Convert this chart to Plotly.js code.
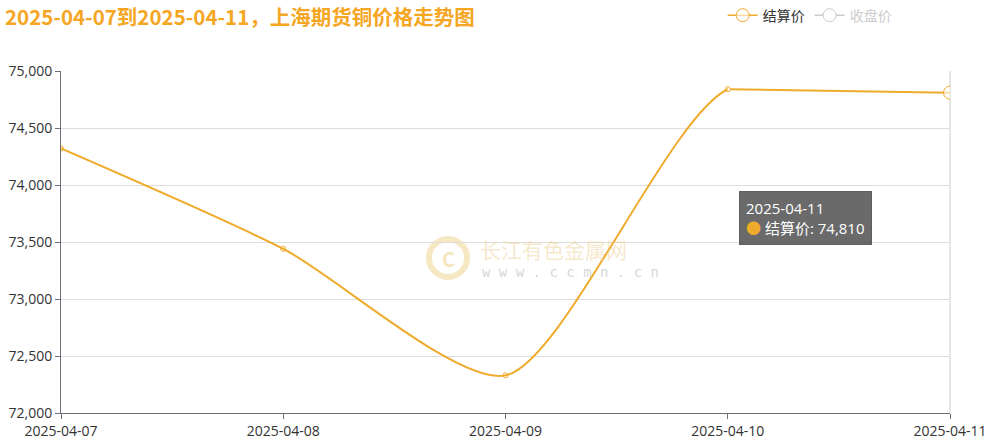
<!DOCTYPE html>
<html>
<head>
<meta charset="utf-8">
<script src="https://cdn.plot.ly/plotly-3.0.1.min.js"></script>
<style>html,body{margin:0;padding:0;background:#fff;}#chart{width:989px;height:444px;}</style>
</head>
<body>
<div id="chart"></div>
<script>
const dates = ['2025-04-07', '2025-04-08', '2025-04-09', '2025-04-10', '2025-04-11'];
const settlePrice = [74320, 73440, 72330, 74840, 74810];
const closePrice = [null, null, null, null, null];
const yTicks = [72000, 72500, 73000, 73500, 74000, 74500, 75000];
const titleText = '2025-04-07到2025-04-11，上海期货铜价格走势图';
const seriesNames = ['结算价', '收盘价'];

const orange = '#EFAB2C';
const cjk = '"Noto Sans CJK SC", "Noto Sans", sans-serif';
const lat = '"Open Sans", "Noto Sans CJK SC", sans-serif';
const last = dates.length - 1;
const yRange = [72000, 75000];

const traces = [
  { // smooth curve through all points, clipped at the second-to-last point (subplot x2/y2)
    x: dates, y: settlePrice, name: seriesNames[0], type: 'scatter', mode: 'lines',
    xaxis: 'x2', yaxis: 'y2',
    line: {color: orange, width: 2, shape: 'spline', smoothing: 0.7},
    showlegend: false, hoverinfo: 'skip'
  },
  { // final segment
    x: dates.slice(last - 1), y: settlePrice.slice(last - 1), name: seriesNames[0], type: 'scatter', mode: 'lines',
    line: {color: orange, width: 2},
    showlegend: false, hoverinfo: 'skip'
  },
  { // point markers
    x: dates.slice(0, last), y: settlePrice.slice(0, last), name: seriesNames[0], type: 'scatter', mode: 'markers',
    marker: {color: '#fff', size: 5, line: {color: orange, width: 1}},
    showlegend: false, hoverinfo: 'skip'
  },
  { // highlighted last point (legend entry)
    x: dates.slice(last), y: settlePrice.slice(last), name: seriesNames[0], type: 'scatter', mode: 'lines+markers',
    line: {color: orange, width: 1.5},
    marker: {color: 'rgba(255,255,255,0.6)', size: 13, line: {color: orange, width: 1}},
    hoverinfo: 'skip'
  },
  {
    x: dates, y: closePrice, name: '<span style="color:#ccc">' + seriesNames[1] + '</span>', type: 'scatter', mode: 'lines+markers',
    line: {color: '#ccc', width: 1.5},
    marker: {color: '#fff', size: 13, line: {color: '#ccc', width: 1}},
    hoverinfo: 'skip'
  }
];

const fmt = v => v.toLocaleString('en-US');

const layout = {
  width: 989, height: 444,
  margin: {l: 61, r: 39, t: 71, b: 31, autoexpand: false},
  paper_bgcolor: '#fff', plot_bgcolor: 'rgba(0,0,0,0)',
  font: {family: lat, size: 14, color: '#333'},
  title: {
    text: '<b>' + titleText + '</b>',
    x: 0.005, xanchor: 'left', y: 0.96, yanchor: 'middle',
    font: {family: cjk, size: 20.5, color: '#F5A623'}
  },
  showlegend: true,
  legend: {
    orientation: 'h', x: 0.94, xanchor: 'right', y: 1.162, yanchor: 'middle',
    font: {family: cjk, size: 14, color: '#333'},
    tracegroupgap: 0, bgcolor: 'rgba(0,0,0,0)'
  },
  xaxis: {
    type: 'category', categoryorder: 'array', categoryarray: dates,
    range: [0, last], showgrid: false, domain: [0, 1],
    showline: true, linecolor: '#6E7079', linewidth: 1,
    ticks: 'outside', ticklen: 5, tickcolor: '#6E7079',
    tickfont: {family: lat, size: 14, color: '#333'},
    zeroline: false, fixedrange: true
  },
  yaxis: {
    range: yRange, tickvals: yTicks, ticktext: yTicks.map(fmt),
    showgrid: true, gridcolor: '#ddd', gridwidth: 1,
    showline: true, linecolor: '#6E7079', linewidth: 1,
    ticks: 'outside', ticklen: 5, tickcolor: '#6E7079',
    tickfont: {family: lat, size: 14, color: '#333'},
    zeroline: false, fixedrange: true
  },
  xaxis2: {
    type: 'category', categoryarray: dates, categoryorder: 'array',
    range: [0, last - 1], domain: [0, (last - 1) / last], anchor: 'y2', visible: false, fixedrange: true
  },
  yaxis2: {
    range: yRange, domain: [0, 1], anchor: 'x2', visible: false, fixedrange: true
  },
  shapes: [
    {type: 'line', xref: 'paper', yref: 'paper', x0: 1, x1: 1, y0: 0, y1: 1, line: {color: '#ccc', width: 1}, layer: 'below'},
    {type: 'circle', xref: 'paper', yref: 'paper', x0: (429-61)/889, x1: (467-61)/889, y0: (413-277)/342, y1: (413-239)/342,
     line: {color: 'rgba(236,204,120,0.45)', width: 6}, fillcolor: 'rgba(0,0,0,0)', layer: 'below'}
  ],
  annotations: [
    {xref: 'paper', yref: 'paper', x: (448-61)/889, y: (413-258)/342, text: '<b>C</b>', showarrow: false,
     font: {family: cjk, size: 20, color: 'rgba(236,204,120,0.5)'}},
    {xref: 'paper', yref: 'paper', x: (478-61)/889, y: (413-249)/342, xanchor: 'left', text: '长江有色金属网', showarrow: false,
     font: {family: cjk, size: 21, color: 'rgba(236,204,140,0.45)'}},
    {xref: 'paper', yref: 'paper', x: (480-61)/889, y: (413-272)/342, xanchor: 'left', text: 'w w w . c c m n . c n', showarrow: false,
     font: {family: '"DejaVu Sans Mono", monospace', size: 14, color: 'rgba(180,180,180,0.55)'}},
    {
      x: dates[last], y: settlePrice[last], xref: 'x', yref: 'y',
      text: dates[last] + '<br><span style="color:' + orange + '">●</span> ' + seriesNames[0] + ': ' + fmt(settlePrice[last]),
      showarrow: false, align: 'left', xanchor: 'right', yanchor: 'top',
      xshift: -78, yshift: -98,
      bgcolor: 'rgba(80,80,80,0.85)', bordercolor: 'rgba(80,80,80,0.85)', borderpad: 6, borderwidth: 1,
      font: {family: lat, size: 15, color: '#fff'}
    }
  ]
};

Plotly.newPlot('chart', traces, layout, {displayModeBar: false, staticPlot: true});
</script>
</body>
</html>
